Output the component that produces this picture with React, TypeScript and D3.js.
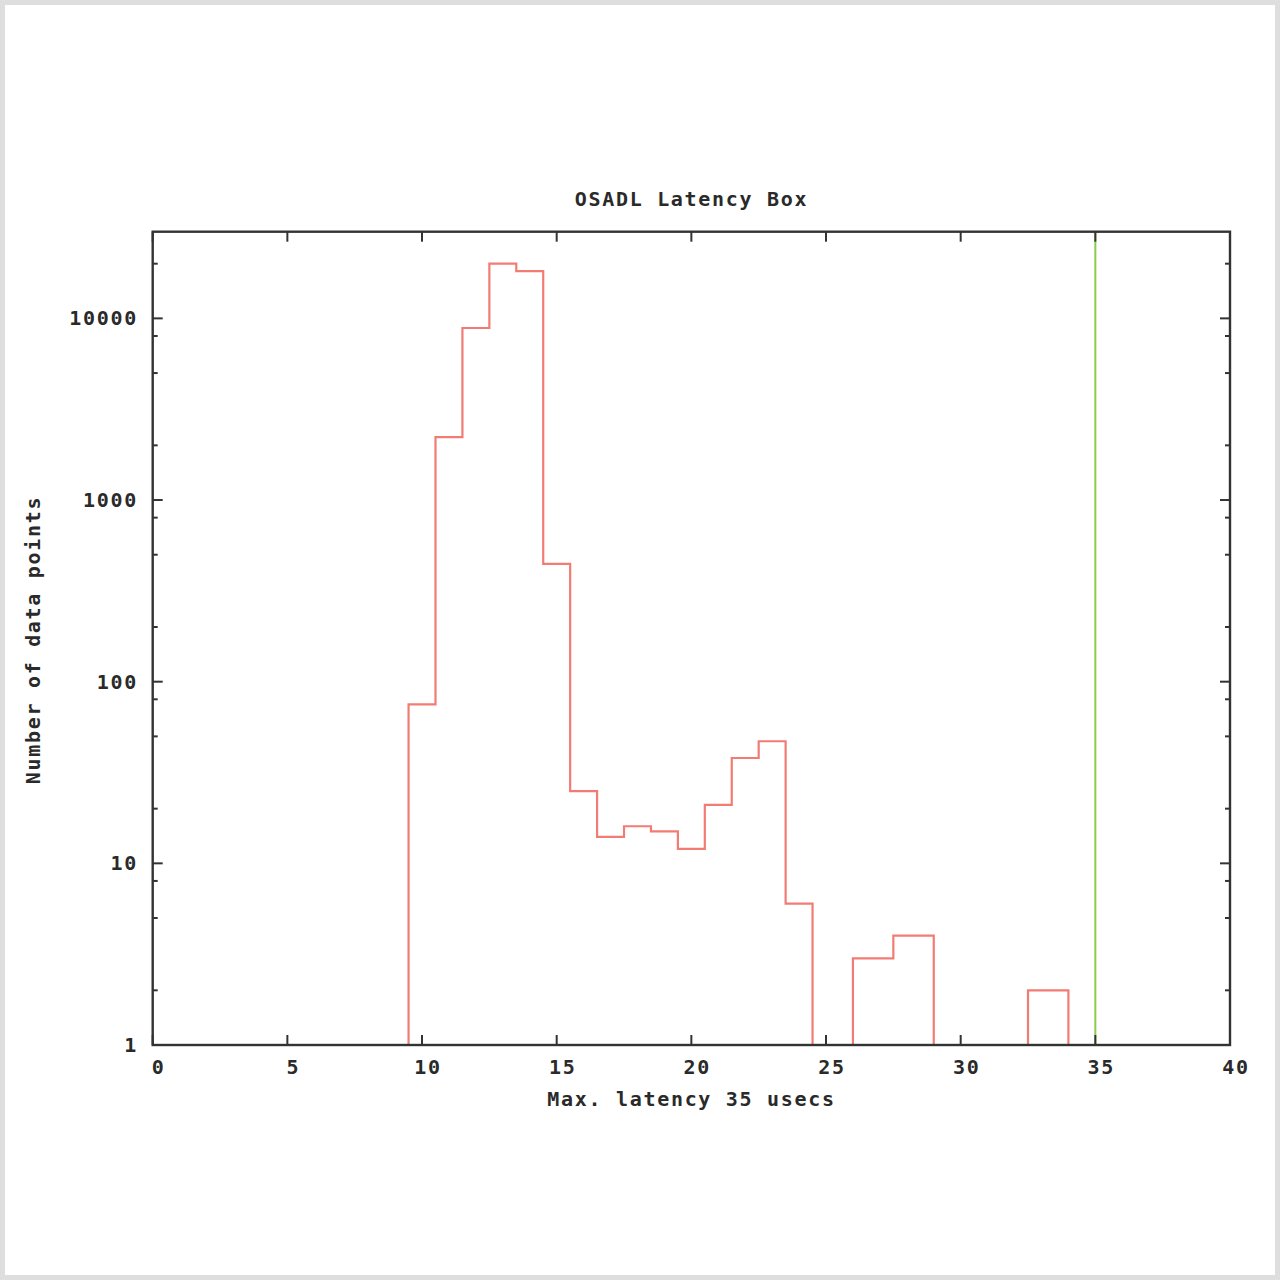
import React from "react";
import * as d3 from "d3";

// ---- data ----
const latencyUs: number[] = [10, 11, 12, 13, 14, 15, 16, 17, 18, 19, 20, 21, 22, 23, 24, 25, 27, 28, 30, 32, 33, 35];
const counts: number[] = [75, 2220, 8850, 20000, 18200, 445, 25, 14, 16, 15, 12, 21, 38, 47, 6, 0, 3, 4, 0, 0, 2, 0];
const maxLatency = 35;
const xTickValues: number[] = [0, 5, 10, 15, 20, 25, 30, 35, 40];
const yTickValues: number[] = [1, 10, 100, 1000, 10000];
const yMinorFactors: number[] = [2, 5, 8];
const titleText = "OSADL Latency Box";
const xLabelText = "Max. latency 35 usecs";
const yLabelText = "Number of data points";

const W = 1280;
const H = 1280;
const M = { left: 152.7, right: 1230, top: 231.7, bottom: 1045 };
const FONT = "'DejaVu Sans Mono', 'Liberation Mono', monospace";

export default function App() {
  const x = d3.scaleLinear().domain([0, 40]).range([M.left, M.right]);
  const y = d3.scaleLog().domain([1, 30000]).range([M.bottom, M.top]);

  // histogram steps (gnuplot "histeps" style: edges at midpoints)
  const n = latencyUs.length;
  const pts: [number, number][] = [];
  for (let i = 0; i < n; i++) {
    const left = i === 0 ? latencyUs[0] - (latencyUs[1] - latencyUs[0]) / 2 : (latencyUs[i - 1] + latencyUs[i]) / 2;
    const right = i === n - 1 ? latencyUs[i] + (latencyUs[i] - latencyUs[i - 1]) / 2 : (latencyUs[i] + latencyUs[i + 1]) / 2;
    const v = counts[i] > 0 ? counts[i] : 1;
    if (i === 0) pts.push([left, 1]);
    pts.push([left, v]);
    pts.push([right, v]);
    if (i === n - 1) pts.push([right, 1]);
  }
  const line = d3
    .line<[number, number]>()
    .x((d) => x(d[0]))
    .y((d) => y(d[1]));

  const minorTicks: number[] = [];
  yTickValues.concat([100000]).forEach((dec) => {
    yMinorFactors.forEach((f) => {
      const v = dec * f;
      if (v < 30000) minorTicks.push(v);
    });
  });

  const frame = "#333333";
  const textFill = "#2a2a2a";

  return (
    <svg
      width={W}
      height={H}
      style={{ position: "absolute", left: 0, top: 0, background: "#ffffff" }}
    >
      <rect x={0} y={0} width={W} height={H} fill="#ffffff" />
      <rect x={2.5} y={2.5} width={W - 5} height={H - 5} fill="none" stroke="#dedede" strokeWidth={5} />
      <defs>
        <clipPath id="plotClip">
          <rect x={M.left} y={M.top} width={M.right - M.left} height={M.bottom - M.top} />
        </clipPath>
      </defs>

      {/* data */}
      <g clipPath="url(#plotClip)">
        <path d={line(pts) || ""} fill="none" stroke="#f27c74" strokeWidth={2.2} />
        <line
          x1={x(maxLatency)}
          x2={x(maxLatency)}
          y1={y(1)}
          y2={y(30000)}
          stroke="#8ccc4c"
          strokeWidth={2}
        />
      </g>

      {/* ticks */}
      <g stroke={frame} strokeWidth={2}>
        {xTickValues.map((t) => (
          <g key={"xt" + t}>
            <line x1={x(t)} x2={x(t)} y1={M.bottom} y2={M.bottom - 10} />
            <line x1={x(t)} x2={x(t)} y1={M.top} y2={M.top + 10} />
          </g>
        ))}
        {yTickValues.map((t) => (
          <g key={"yt" + t}>
            <line x1={M.left} x2={M.left + 10} y1={y(t)} y2={y(t)} />
            <line x1={M.right} x2={M.right - 10} y1={y(t)} y2={y(t)} />
          </g>
        ))}
        {minorTicks.map((t) => (
          <g key={"ym" + t}>
            <line x1={M.left} x2={M.left + 5} y1={y(t)} y2={y(t)} />
            <line x1={M.right} x2={M.right - 5} y1={y(t)} y2={y(t)} />
          </g>
        ))}
      </g>

      {/* frame */}
      <rect
        x={M.left}
        y={M.top}
        width={M.right - M.left}
        height={M.bottom - M.top}
        fill="none"
        stroke={frame}
        strokeWidth={2.4}
      />

      {/* tick labels */}
      <g fontFamily={FONT} fontSize={20} fontWeight="bold" fill={textFill} letterSpacing={1.7}>
        {xTickValues.map((t) => (
          <text key={"xl" + t} x={x(t) + 6} y={1067} textAnchor="middle" dominantBaseline="central">
            {String(t)}
          </text>
        ))}
        {yTickValues.map((t) => (
          <text key={"yl" + t} x={138} y={y(t)} textAnchor="end" dominantBaseline="central">
            {String(t)}
          </text>
        ))}
        <text x={691.5} y={199} textAnchor="middle" dominantBaseline="central">
          {titleText}
        </text>
        <text x={691.5} y={1099} textAnchor="middle" dominantBaseline="central">
          {xLabelText}
        </text>
        <text
          x={33}
          y={640}
          textAnchor="middle"
          dominantBaseline="central"
          transform="rotate(-90 33 640)"
        >
          {yLabelText}
        </text>
      </g>
    </svg>
  );
}
